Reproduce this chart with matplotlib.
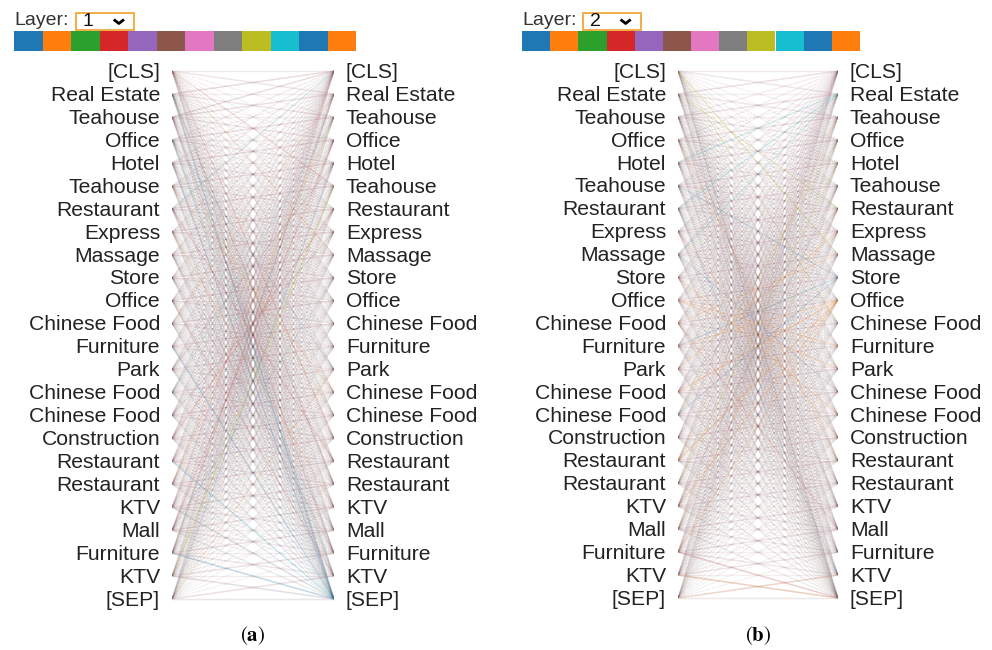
import matplotlib.pyplot as plt
from matplotlib.collections import LineCollection
from matplotlib.colors import to_rgba
from matplotlib.patches import Rectangle

plt.rcParams['font.family'] = ['Liberation Sans', 'DejaVu Sans']
plt.rcParams['mathtext.fontset'] = 'stix'

tokens = ['[CLS]', 'Real Estate', 'Teahouse', 'Office', 'Hotel', 'Teahouse',
          'Restaurant', 'Express', 'Massage', 'Store', 'Office', 'Chinese Food',
          'Furniture', 'Park', 'Chinese Food', 'Chinese Food', 'Construction',
          'Restaurant', 'Restaurant', 'KTV', 'Mall', 'Furniture', 'KTV', '[SEP]']

head_colors = ['#1f77b4', '#ff7f0e', '#2ca02c', '#d62728', '#9467bd', '#8c564b',
               '#e377c2', '#7f7f7f', '#bcbd22', '#17becf', '#1f77b4', '#ff7f0e']

# faint weight every head spreads over all tokens
base_1 = 0.0036
base_2 = 0.0036

# per-head weight on previous / next / same token, [CLS] and [SEP]
prev_1 = [0.010, 0.000, 0.005, 0.040, 0.015, 0.030, 0.020, 0.000, 0.008, 0.000, 0.000, 0.000]
next_1 = [0.000, 0.008, 0.000, 0.025, 0.012, 0.020, 0.015, 0.004, 0.000, 0.000, 0.008, 0.000]
self_1 = [0.000, 0.000, 0.000, 0.015, 0.000, 0.012, 0.000, 0.000, 0.000, 0.000, 0.000, 0.008]
cls_1 = [0.004, 0.000, 0.000, 0.008, 0.004, 0.008, 0.000, 0.000, 0.004, 0.000, 0.000, 0.000]
sep_1 = [0.020, 0.000, 0.000, 0.004, 0.000, 0.000, 0.000, 0.012, 0.000, 0.015, 0.008, 0.000]

prev_2 = [0.005, 0.000, 0.000, 0.030, 0.020, 0.025, 0.025, 0.000, 0.005, 0.000, 0.000, 0.000]
next_2 = [0.000, 0.005, 0.000, 0.020, 0.015, 0.020, 0.012, 0.004, 0.000, 0.004, 0.004, 0.000]
self_2 = [0.000, 0.000, 0.000, 0.012, 0.000, 0.008, 0.000, 0.000, 0.000, 0.000, 0.000, 0.008]
cls_2 = [0.000, 0.000, 0.000, 0.008, 0.004, 0.004, 0.008, 0.000, 0.000, 0.000, 0.000, 0.000]
sep_2 = [0.008, 0.004, 0.000, 0.008, 0.000, 0.004, 0.000, 0.008, 0.000, 0.008, 0.004, 0.008]

# stronger single links: (left token, right token, head, weight)
links_1 = [(1, 18, 5, 0.18), (1, 23, 0, 0.15), (0, 16, 3, 0.12), (2, 21, 5, 0.15),
           (3, 22, 9, 0.12), (4, 23, 0, 0.15), (5, 14, 1, 0.12), (8, 21, 5, 0.12),
           (12, 23, 0, 0.15), (17, 23, 9, 0.15), (21, 23, 0, 0.18), (19, 23, 7, 0.12),
           (22, 5, 8, 0.25), (21, 1, 5, 0.18), (20, 3, 3, 0.15), (23, 4, 0, 0.12),
           (19, 0, 6, 0.12), (18, 2, 1, 0.15), (16, 6, 3, 0.15), (15, 7, 5, 0.12),
           (14, 2, 9, 0.10), (6, 17, 3, 0.15), (7, 19, 1, 0.12), (9, 20, 4, 0.10),
           (0, 8, 1, 0.10), (0, 5, 3, 0.10), (2, 0, 5, 0.10), (3, 13, 0, 0.10),
           (10, 22, 3, 0.12), (11, 1, 1, 0.10), (13, 4, 5, 0.12), (17, 8, 6, 0.10),
           (20, 9, 0, 0.10), (23, 13, 1, 0.10), (6, 0, 9, 0.10), (4, 15, 8, 0.10)]

links_2 = [(14, 10, 1, 0.22), (17, 10, 11, 0.22), (19, 10, 1, 0.18), (21, 10, 1, 0.15),
           (12, 10, 1, 0.15), (5, 9, 0, 0.15), (12, 9, 0, 0.15), (15, 9, 10, 0.15),
           (0, 8, 8, 0.18), (1, 6, 8, 0.15), (0, 11, 8, 0.12), (4, 1, 9, 0.15),
           (6, 1, 9, 0.15), (8, 1, 9, 0.12), (10, 13, 1, 0.15), (9, 15, 1, 0.15),
           (22, 23, 1, 0.18), (23, 22, 1, 0.12), (21, 23, 3, 0.15), (18, 4, 8, 0.15),
           (17, 2, 1, 0.12), (20, 6, 11, 0.12), (3, 17, 1, 0.12), (2, 19, 5, 0.12),
           (11, 20, 3, 0.12), (16, 0, 6, 0.10), (13, 7, 1, 0.15), (7, 16, 11, 0.12),
           (15, 3, 8, 0.12), (6, 22, 0, 0.10), (0, 23, 7, 0.10), (19, 5, 5, 0.12),
           (10, 12, 11, 0.15), (11, 8, 1, 0.12), (8, 14, 0, 0.12), (14, 6, 4, 0.10)]

W, H = 992, 650


def frac(x0, y0, x1, y1):
    return [x0 / W, 1 - y1 / H, (x1 - x0) / W, (y1 - y0) / H]


def draw_lines(ax, base, prev_w, next_w, self_w, cls_w, sep_w, links):
    n = len(tokens)
    segs, cols = [], []
    for h, c in enumerate(head_colors):
        r, g, b, _ = to_rgba(c)
        for i in range(n):
            for j in range(n):
                w = base
                if j == i - 1:
                    w += prev_w[h]
                if j == i + 1:
                    w += next_w[h]
                if j == i:
                    w += self_w[h]
                if j == 0:
                    w += cls_w[h]
                if j == n - 1:
                    w += sep_w[h]
                segs.append([(0, i), (1, j)])
                cols.append((r, g, b, min(w, 1.0)))
    for i, j, h, w in links:
        r, g, b, _ = to_rgba(head_colors[h])
        segs.append([(0, i), (1, j)])
        cols.append((r, g, b, w))
    ax.add_collection(LineCollection(segs, colors=cols, linewidths=1.0))


def draw_panel(x_left, x_right, y_top, y_bot, bar_x0, bar_x1, layer, caption,
               weights):
    n = len(tokens)
    step = (y_bot - y_top) / (n - 1)
    ax = fig.add_axes(frac(x_left, y_top - step / 2, x_right, y_bot + step / 2))
    ax.set_xlim(0, 1)
    ax.set_ylim(n - 0.5, -0.5)
    ax.axis('off')
    draw_lines(ax, *weights)
    for k, tok in enumerate(tokens):
        ax.annotate(tok, xy=(0, k), xytext=(-8.6, -1.0), textcoords='offset points',
                    ha='right', va='center', fontsize=15.2, color='#222222')
        ax.annotate(tok, xy=(1, k), xytext=(8.6, -1.0), textcoords='offset points',
                    ha='left', va='center', fontsize=15.2, color='#222222')

    # layer selector and head colour strip
    hdr = fig.add_axes(frac(bar_x0, 10, bar_x1, 52))
    hdr.set_xlim(0, 12)
    hdr.set_ylim(42, 0)
    hdr.axis('off')
    for h, c in enumerate(head_colors):
        hdr.add_patch(Rectangle((h, 21), 1, 20, color=c, lw=0))
    hdr.text(0, 10.5, 'Layer:', ha='left', va='center', fontsize=14, color='#333333')
    hdr.add_patch(Rectangle((2.17, 2.5), 2.05, 17.5, fill=False,
                            edgecolor='#f2ad45', lw=1.4))
    hdr.text(2.4, 11, layer, ha='left', va='center', fontsize=14, color='#111111')
    hdr.plot([3.5, 3.68, 3.86], [9.5, 13.5, 9.5], color='black', lw=2.0,
             solid_capstyle='butt')

    fig.text((x_left + x_right) / 2 / W, 1 - 636 / H,
             r'$(\mathbf{' + caption + r'})$', ha='center', va='center',
             fontsize=15)


fig = plt.figure(figsize=(W / 100, H / 100), dpi=100)
draw_panel(172, 334, 71, 599, 14, 356, '1', 'a',
           (base_1, prev_1, next_1, self_1, cls_1, sep_1, links_1))
draw_panel(678, 838, 71, 598, 522, 860, '2', 'b',
           (base_2, prev_2, next_2, self_2, cls_2, sep_2, links_2))
fig.savefig('out.png', dpi=100)
